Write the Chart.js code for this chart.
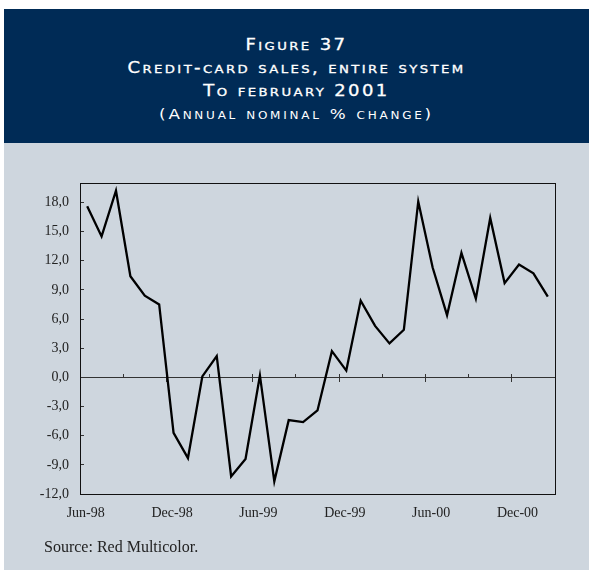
<!DOCTYPE html>
<html>
<head>
<meta charset="utf-8">
<script src="https://cdn.jsdelivr.net/npm/chart.js@4.4.0/dist/chart.umd.min.js"></script>
<style>
  body { margin: 0; background: #fff; }
  #page { position: relative; width: 589px; height: 570px; overflow: hidden; }
  #head {
    position: absolute; left: 4px; top: 9px; width: 585px; height: 134px;
    background: #002b56; color: #fff; text-align: center;
    font-family: "DejaVu Sans", sans-serif; font-variant: small-caps;
  }
  #head div { height: 23.2px; line-height: 23.2px; white-space: nowrap; transform: scaleX(1.2); }
  #head .t { font-size: 15px; letter-spacing: 2px; -webkit-text-stroke: 0.3px #fff; }
  #head .s { font-size: 14px; letter-spacing: 2.3px; }
  #panel { position: absolute; left: 4px; top: 143px; width: 585px; height: 427px; background: #ced6de; }
  #source {
    position: absolute; left: 44px; top: 538px;
    font-family: "Liberation Serif", serif; font-size: 16px; color: #222;
  }
  #chart-main { position: absolute; left: 0; top: 0; }
</style>
</head>
<body>
<div id="page">
  <div id="head">
    <div style="height:24.5px"></div>
    <div class="t">Figure 37</div>
    <div class="t">Credit-card sales, entire system</div>
    <div class="t">To february 2001</div>
    <div class="s">(Annual nominal % change)</div>
  </div>
  <div id="panel"></div>
  <canvas id="chart-main" width="589" height="570"></canvas>
  <div id="source">Source: Red Multicolor.</div>
</div>
<script>
const months = [
  'Jun-98', 'Jul-98', 'Aug-98', 'Sep-98', 'Oct-98', 'Nov-98',
  'Dec-98', 'Jan-99', 'Feb-99', 'Mar-99', 'Apr-99', 'May-99',
  'Jun-99', 'Jul-99', 'Aug-99', 'Sep-99', 'Oct-99', 'Nov-99',
  'Dec-99', 'Jan-00', 'Feb-00', 'Mar-00', 'Apr-00', 'May-00',
  'Jun-00', 'Jul-00', 'Aug-00', 'Sep-00', 'Oct-00', 'Nov-00',
  'Dec-00', 'Jan-01', 'Feb-01'
];

const salesChange = [
  17.6, 14.5, 19.2, 10.4, 8.4, 7.5,
  -5.7, -8.3, 0.1, 2.2, -10.2, -8.4,
  0.2, -10.7, -4.4, -4.6, -3.4, 2.7,
  0.7, 7.9, 5.3, 3.5, 4.9, 18.1,
  11.3, 6.4, 12.8, 8.1, 16.4, 9.7,
  11.6, 10.7, 8.3
];

const yTicks = [-12, -9, -6, -3, 0, 3, 6, 9, 12, 15, 18];
const yMin = -12;
const yMax = 20;

let fmt = v => v.toFixed(1).replace('.', ',');
let setTicks = scale => { scale.ticks = yTicks.map(v => ({ value: v })); };

// frame round the plot area
const frame = {
  id: 'frame',
  afterDraw(chart) {
    let { ctx, chartArea: a } = chart;
    ctx.save();
    ctx.strokeStyle = '#111';
    ctx.lineWidth = 1;
    ctx.strokeRect(Math.round(a.left) + 0.5, Math.round(a.top) + 0.5,
      Math.round(a.right - a.left), Math.round(a.bottom - a.top));
    ctx.restore();
  }
};

var ctx1 = document.getElementById('chart-main').getContext('2d');
var myChart1 = new Chart(ctx1, {
  type: 'line',
  data: {
    labels: months,
    datasets: [{
      data: salesChange,
      borderColor: '#000',
      borderWidth: 2.3,
      pointRadius: 0,
      tension: 0,
      fill: false
    }]
  },
  options: {
    responsive: false,
    animation: false,
    devicePixelRatio: 1,
    layout: { padding: { left: 20, right: 34, top: 183, bottom: 46 } },
    plugins: { legend: { display: false }, tooltip: { enabled: false } },
    scales: {
      x: {
        type: 'category',
        position: 'bottom',
        offset: true,
        afterFit: s => { s.height = 30; },
        grid: { display: true, drawOnChartArea: false, drawTicks: false, offset: true },
        border: { display: false },
        ticks: {
          autoSkip: false,
          maxRotation: 0,
          minRotation: 0,
          padding: 11,
          labelOffset: -1.5,
          color: '#222',
          font: { family: 'Liberation Serif', size: 14 },
          callback: (v, i) => i % 6 === 0 ? months[i] : ''
        }
      },
      // zero line with the long tick marks
      x0: {
        type: 'category',
        position: { y: 0 },
        offset: true,
        grid: {
          drawOnChartArea: false,
          offset: true,
          tickLength: 4,
          tickWidth: 1,
          tickColor: c => c.index !== undefined && c.index % 6 === 0 ? '#333' : 'rgba(0,0,0,0)'
        },
        border: { display: true, color: '#333', width: 1 },
        ticks: { display: false, autoSkip: false }
      },
      // short tick marks above the zero line
      x3: {
        type: 'category',
        position: { y: 0.36 },
        offset: true,
        grid: {
          drawOnChartArea: false,
          offset: true,
          tickLength: 3.5,
          tickWidth: 1,
          tickColor: c => c.index !== undefined && c.index % 3 === 0 ? '#333' : 'rgba(0,0,0,0)'
        },
        border: { display: false },
        ticks: { display: false, autoSkip: false }
      },
      y: {
        min: yMin,
        max: yMax,
        afterBuildTicks: setTicks,
        afterFit: s => { s.width = 60; },
        grid: { drawOnChartArea: false, drawTicks: false },
        border: { display: false },
        ticks: {
          padding: 11,
          color: '#222',
          font: { family: 'Liberation Serif', size: 14 },
          callback: v => fmt(v)
        }
      },
      // inward tick marks on the left side
      yt: {
        min: yMin,
        max: yMax,
        position: { x: -0.22 },
        afterBuildTicks: setTicks,
        grid: { drawOnChartArea: false, tickLength: 4, tickWidth: 1, tickColor: '#333' },
        border: { display: false },
        ticks: { display: false }
      }
    }
  },
  plugins: [frame]
});
</script>
</body>
</html>
